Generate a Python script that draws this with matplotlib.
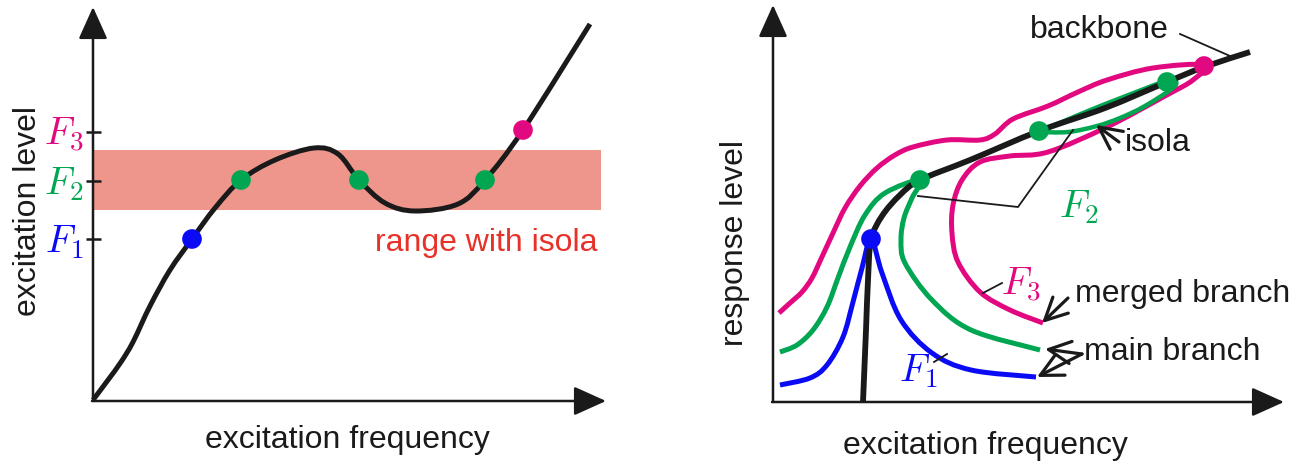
import matplotlib
matplotlib.use("Agg")
import matplotlib.pyplot as plt
import numpy as np
from matplotlib.path import Path
from matplotlib.patches import PathPatch

# farby
BLUE = "#0A0AF5"
GREEN = "#00A651"
MAGENTA = "#E2087F"
BAND = "#EE968C"
RED_TXT = "#E63228"
INK = "#1A1A1A"

# --- lewy wykres: poziom wzbudzenia (wspolrzedne w pikselach obrazu) ---
left_curve = [(93, 400), (108, 380), (121, 362), (133, 342), (150, 306), (170, 270),
              (192, 239), (215, 208), (241, 180), (275, 160), (314, 148), (338, 154),
              (359, 180), (385, 203), (415, 211), (458, 204), (485, 180), (523, 130),
              (590, 24)]
left_dots_x = [192, 241, 359, 485, 523]
left_dots_y = [239, 180, 180, 180, 130]
left_dots_c = [BLUE, GREEN, GREEN, GREEN, MAGENTA]
level_labels = ["$F_3$", "$F_2$", "$F_1$"]
level_y = [132, 181, 239]
level_c = [MAGENTA, GREEN, BLUE]
band_x = [94, 601]
band_top, band_bottom = 150, 210

# --- prawy wykres: odpowiedz ---
backbone = [(863, 402), (866, 330), (868, 280), (871, 240), (882, 216), (900, 195),
            (920, 180), (970, 160), (1039, 131), (1105, 108), (1167, 82), (1204, 67),
            (1250, 52)]
blue_curve = [(780, 385), (810, 378), (827, 365), (843, 337), (853, 302), (862, 268),
              (871, 239), (882, 273), (901, 320), (932, 353), (971, 370), (1036, 377)]
green_curve = [(780, 352), (797, 345), (813, 330), (827, 307), (838, 278), (850, 247),
               (865, 215), (885, 193), (920, 180), (912, 198), (904, 218), (901, 240),
               (905, 263), (932, 300), (971, 330), (1040, 350)]
green_isola = [(1039, 131), (1062, 122), (1088, 111), (1126, 96), (1167, 81),
               (1175, 86), (1145, 106), (1120, 118), (1097, 126), (1068, 132), (1039, 132)]
magenta_curve = [(779, 313), (790, 303), (802, 292), (812, 278), (821, 259), (833, 233),
                 (845, 208), (860, 186), (877, 168), (895, 155), (913, 147), (947, 140),
                 (980, 140), (995, 134), (1013, 119), (1048, 106), (1078, 92), (1107, 80),
                 (1153, 68), (1204, 65), (1193, 80), (1165, 96), (1107, 127), (1048, 152),
                 (1010, 156), (980, 162), (962, 180), (953, 205), (952, 233), (958, 262),
                 (980, 292), (1010, 310), (1043, 323)]
right_dots_x = [871, 920, 1039, 1167, 1204]
right_dots_y = [239, 180, 131, 82, 66]
right_dots_c = [BLUE, GREEN, GREEN, GREEN, MAGENTA]


def gladka(pts):
    # krzywa Catmull-Rom zamieniona na odcinki Beziera
    P = np.asarray(pts, float)
    ext = np.vstack([P[0], P, P[-1]])
    verts = [P[0]]
    codes = [Path.MOVETO]
    for i in range(1, len(ext) - 2):
        p0, p1, p2, p3 = ext[i - 1], ext[i], ext[i + 1], ext[i + 2]
        verts += [p1 + (p2 - p0) / 6, p2 - (p3 - p1) / 6, p2]
        codes += [Path.CURVE4] * 3
    return Path(verts, codes)


def krzywa(ax, pts, color, lw, z=2):
    ax.add_patch(PathPatch(gladka(pts), fill=False, ec=color, lw=lw,
                           capstyle="butt", joinstyle="round", zorder=z))


def os_strzalka(ax, start, tip):
    ax.annotate("", xy=tip, xytext=start,
                arrowprops=dict(arrowstyle="-|>,head_length=1.0,head_width=0.45",
                                mutation_scale=20, lw=1.8, color=INK,
                                shrinkA=0, shrinkB=0), zorder=6)


def strzalka(ax, tail, tip):
    ax.annotate("", xy=tip, xytext=tail,
                arrowprops=dict(arrowstyle="->,head_length=0.8,head_width=0.4",
                                mutation_scale=20, lw=2.3, color=INK,
                                shrinkA=0, shrinkB=0), zorder=6)


plt.rcParams["font.family"] = ["Liberation Sans", "DejaVu Sans"]
plt.rcParams["mathtext.fontset"] = "cm"

fig = plt.figure(figsize=(13.02, 4.66), dpi=100)
axL = fig.add_axes([0, 0, 0.5, 1])
axR = fig.add_axes([0.5, 0, 0.5, 1])
axL.set_xlim(0, 651)
axR.set_xlim(651, 1302)
for ax in (axL, axR):
    ax.set_ylim(466, 0)
    ax.axis("off")

# lewy
axL.fill_between(band_x, band_top, band_bottom, color=BAND, lw=0, zorder=1)
os_strzalka(axL, (93, 401), (93, 7))
os_strzalka(axL, (92, 401), (606, 401))
axL.hlines(level_y, 86, 101, color=INK, lw=1.8, zorder=6)
for lab, yy, cc in zip(level_labels, level_y, level_c):
    axL.text(83, yy + 3, lab, color=cc, fontsize=28, ha="right", va="center")
krzywa(axL, left_curve, INK, 3.6, z=3)
axL.scatter(left_dots_x, left_dots_y, s=200, c=left_dots_c, lw=0, zorder=7)
axL.text(486, 243, "range with isola", color=RED_TXT, fontsize=23, ha="center", va="center")
axL.text(347, 440, "excitation frequency", color=INK, fontsize=23, ha="center", va="center")
axL.text(28, 211, "excitation level", color=INK, fontsize=23, ha="center", va="center",
         rotation=90)

# prawy
os_strzalka(axR, (773, 402), (773, 5))
os_strzalka(axR, (772, 402), (1284, 402))
krzywa(axR, magenta_curve, MAGENTA, 3.6)
krzywa(axR, green_curve, GREEN, 3.6)
krzywa(axR, blue_curve, BLUE, 3.6)
krzywa(axR, green_isola, GREEN, 3.2)
krzywa(axR, backbone, INK, 4.2, z=3)
axR.scatter(right_dots_x, right_dots_y, s=200, c=right_dots_c, lw=0, zorder=7)

# opisy i linie odniesienia
axR.plot([1180, 1230], [34, 56], color=INK, lw=1.3, zorder=6)
axR.plot([918, 1018, 1073], [196, 207, 130], color=INK, lw=1.3, zorder=6)
axR.plot([983, 1002], [293, 283], color=INK, lw=1.3, zorder=6)
axR.plot([934, 947], [362, 354], color=INK, lw=1.3, zorder=6)
strzalka(axR, (1119, 142), (1096, 125))
strzalka(axR, (1068, 298), (1042, 323))
strzalka(axR, (1082, 354), (1045, 349))
strzalka(axR, (1082, 354), (1037, 377))

axR.text(1099, 30, "backbone", color=INK, fontsize=23, ha="center", va="center")
axR.text(1158, 143, "isola", color=INK, fontsize=23, ha="center", va="center")
axR.text(1183, 294, "merged branch", color=INK, fontsize=23, ha="center", va="center")
axR.text(1172, 352, "main branch", color=INK, fontsize=23, ha="center", va="center")
axR.text(1079, 207, "$F_2$", color=GREEN, fontsize=28, ha="center", va="center")
axR.text(1021, 285, "$F_3$", color=MAGENTA, fontsize=28, ha="center", va="center")
axR.text(918, 371, "$F_1$", color=BLUE, fontsize=28, ha="center", va="center")
axR.text(985, 446, "excitation frequency", color=INK, fontsize=23, ha="center", va="center")
axR.text(735, 243, "response level", color=INK, fontsize=23, ha="center", va="center",
         rotation=90)

fig.savefig("out.png", dpi=100)
